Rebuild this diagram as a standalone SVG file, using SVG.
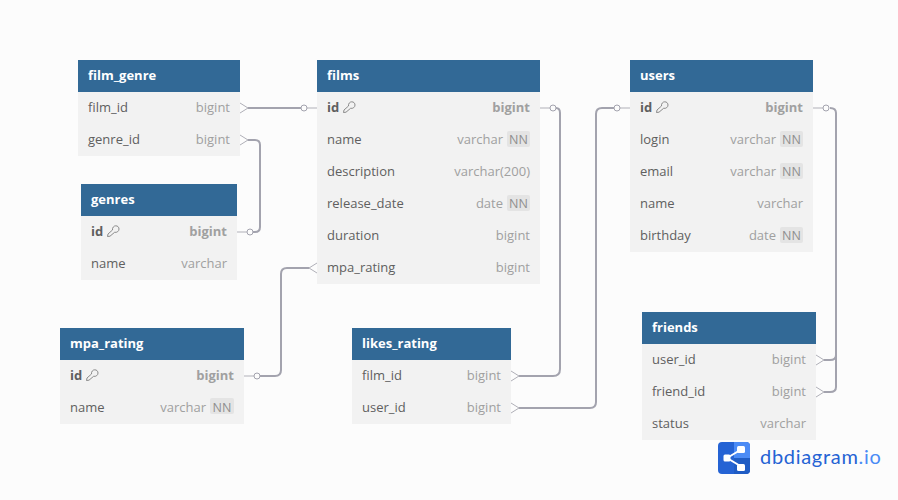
<svg xmlns="http://www.w3.org/2000/svg" xmlns:xlink="http://www.w3.org/1999/xlink" width="898" height="500" viewBox="0 0 898 500">
<style>
text{font-family:"Open Sans","Noto Sans","DejaVu Sans",sans-serif;font-size:13px}
.body{fill:#f2f2f2}.head{fill:#326996}
.title{fill:#fff;font-weight:700}
.f{fill:#5f5f5f}.t{fill:#a0a0a0;text-anchor:end}
.b{font-weight:700}
.nn{fill:#e4e4e4}.nt{fill:#8f8f8f;font-size:12.500px;text-anchor:middle}
.line{fill:none;stroke:#a3a3ae;stroke-width:2}
.thin{fill:none;stroke:#b0b0b8;stroke-width:1}
.c{fill:#fcfcfc;stroke:#a3a3ae;stroke-width:1}
.key{fill:none;stroke:#7f7f7f;stroke-width:.9}
</style>
<defs>
<g id="key"><path class="key" d="M0.5 11.500L1 9L5.500 5C5.200 2.600 6.800 .8 8.800 .8C10.700 .8 12 2.300 12 4C12 6.200 10 7.800 7.600 7.300L3 11.200Z"/></g>
<g id="crowR"><path class="thin" d="M0 -5L8 0L0 5"/></g>
<g id="crowL"><path class="thin" d="M0 -5L-8 0L0 5"/></g>
</defs>
<rect width="898" height="500" fill="#fcfcfc"/>
<g id="connectors">
<path class="line" d="M248 108H301"/><use xlink:href="#crowR" x="240" y="108"/><path class="thin" d="M307 108H317"/><circle class="c" cx="304" cy="108" r="3"/>
<path class="line" d="M248 140H255Q260 140 260 145V227Q260 232 255 232H252"/><use xlink:href="#crowR" x="240" y="140"/><path class="thin" d="M237 232H247"/><circle class="c" cx="250" cy="232" r="3"/>
<path class="line" d="M309 268H287Q281 268 281 274V370Q281 376 275 376H260"/><use xlink:href="#crowL" x="317" y="268"/><path class="thin" d="M244 376H254"/><circle class="c" cx="257" cy="376" r="3"/>
<path class="line" d="M519 376H553Q560 376 560 369V113Q560 108 556 108"/><use xlink:href="#crowR" x="511" y="376"/><path class="thin" d="M540 108H550"/><circle class="c" cx="553" cy="108" r="3"/>
<path class="line" d="M519 408H590Q596 408 596 402V114Q596 108 602 108H614"/><use xlink:href="#crowR" x="511" y="408"/><path class="thin" d="M620 108H630"/><circle class="c" cx="617" cy="108" r="3"/>
<path class="line" d="M830 108Q836 108 836 113V355Q836 360 830 360H824"/><use xlink:href="#crowR" x="816" y="360"/><path class="thin" d="M813 108H823"/><circle class="c" cx="826" cy="108" r="3"/>
<path class="line" d="M836 355V387Q836 392 830 392H824"/><use xlink:href="#crowR" x="816" y="392"/>
</g>
<g id="film_genre"><rect class="body" x="78" y="92" width="162" height="64"/><rect class="head" x="78" y="60" width="162" height="32"/>
<text class="title" x="88" y="80">film_genre</text>
<text class="f" x="88" y="112">film_id</text><text class="t" x="230" y="112">bigint</text>
<text class="f" x="88" y="144">genre_id</text><text class="t" x="230" y="144">bigint</text></g>
<g id="genres"><rect class="body" x="81" y="216" width="156" height="64"/><rect class="head" x="81" y="184" width="156" height="32"/>
<text class="title" x="91" y="204">genres</text>
<text class="f b" x="91" y="236">id</text><use xlink:href="#key" x="107" y="225"/><text class="t b" x="227" y="236">bigint</text>
<text class="f" x="91" y="268">name</text><text class="t" x="227" y="268">varchar</text></g>
<g id="films"><rect class="body" x="317" y="92" width="223" height="192"/><rect class="head" x="317" y="60" width="223" height="32"/>
<text class="title" x="327" y="80">films</text>
<text class="f b" x="327" y="112">id</text><use xlink:href="#key" x="343" y="101"/><text class="t b" x="530" y="112">bigint</text>
<text class="f" x="327" y="144">name</text><text class="t" x="503" y="144">varchar</text><rect class="nn" x="507" y="131" width="23" height="16" rx="2"/><text class="nt" x="518.500" y="144">NN</text>
<text class="f" x="327" y="176">description</text><text class="t" x="530" y="176">varchar(200)</text>
<text class="f" x="327" y="208">release_date</text><text class="t" x="503" y="208">date</text><rect class="nn" x="507" y="195" width="23" height="16" rx="2"/><text class="nt" x="518.500" y="208">NN</text>
<text class="f" x="327" y="240">duration</text><text class="t" x="530" y="240">bigint</text>
<text class="f" x="327" y="272">mpa_rating</text><text class="t" x="530" y="272">bigint</text></g>
<g id="users"><rect class="body" x="630" y="92" width="183" height="160"/><rect class="head" x="630" y="60" width="183" height="32"/>
<text class="title" x="640" y="80">users</text>
<text class="f b" x="640" y="112">id</text><use xlink:href="#key" x="656" y="101"/><text class="t b" x="803" y="112">bigint</text>
<text class="f" x="640" y="144">login</text><text class="t" x="776" y="144">varchar</text><rect class="nn" x="780" y="131" width="23" height="16" rx="2"/><text class="nt" x="791.500" y="144">NN</text>
<text class="f" x="640" y="176">email</text><text class="t" x="776" y="176">varchar</text><rect class="nn" x="780" y="163" width="23" height="16" rx="2"/><text class="nt" x="791.500" y="176">NN</text>
<text class="f" x="640" y="208">name</text><text class="t" x="803" y="208">varchar</text>
<text class="f" x="640" y="240">birthday</text><text class="t" x="776" y="240">date</text><rect class="nn" x="780" y="227" width="23" height="16" rx="2"/><text class="nt" x="791.500" y="240">NN</text></g>
<g id="mpa_rating"><rect class="body" x="60" y="360" width="184" height="64"/><rect class="head" x="60" y="328" width="184" height="32"/>
<text class="title" x="70" y="348">mpa_rating</text>
<text class="f b" x="70" y="380">id</text><use xlink:href="#key" x="86" y="369"/><text class="t b" x="234" y="380">bigint</text>
<text class="f" x="70" y="412">name</text><text class="t" x="206" y="412">varchar</text><rect class="nn" x="210" y="398" width="24" height="16" rx="2"/><text class="nt" x="222" y="412">NN</text></g>
<g id="likes_rating"><rect class="body" x="352" y="360" width="159" height="64"/><rect class="head" x="352" y="328" width="159" height="32"/>
<text class="title" x="362" y="348">likes_rating</text>
<text class="f" x="362" y="380">film_id</text><text class="t" x="501" y="380">bigint</text>
<text class="f" x="362" y="412">user_id</text><text class="t" x="501" y="412">bigint</text></g>
<g id="friends"><rect class="body" x="642" y="344" width="174" height="96"/><rect class="head" x="642" y="312" width="174" height="32"/>
<text class="title" x="652" y="332">friends</text>
<text class="f" x="652" y="364">user_id</text><text class="t" x="806" y="364">bigint</text>
<text class="f" x="652" y="396">friend_id</text><text class="t" x="806" y="396">bigint</text>
<text class="f" x="652" y="428">status</text><text class="t" x="806" y="428">varchar</text></g>
<g id="logo">
<rect x="718" y="442" width="32" height="32" rx="4" fill="#2563d4"/>
<path d="M734 442H746Q750 442 750 446V458H734Z" fill="#4b8bf5"/><path d="M734 458H750V470Q750 474 746 474H734Z" fill="#1f5cc4"/>
<path d="M727 458L742 449M727 458L742 467" stroke="#fff" stroke-width="2" fill="none"/>
<rect x="723.500" y="454.500" width="7" height="7" rx="1.500" fill="#fff"/><rect x="737" y="446" width="8" height="7" rx="1.500" fill="#fff"/><rect x="737" y="464" width="8" height="7" rx="1.500" fill="#fff"/>
<text x="760" y="464" style="font-family:'Lato','Open Sans',sans-serif;font-size:20px;letter-spacing:.7px" fill="#2563d4">dbdiagram<tspan fill="#4b8bf5">.io</tspan></text>
</g>
</svg>
